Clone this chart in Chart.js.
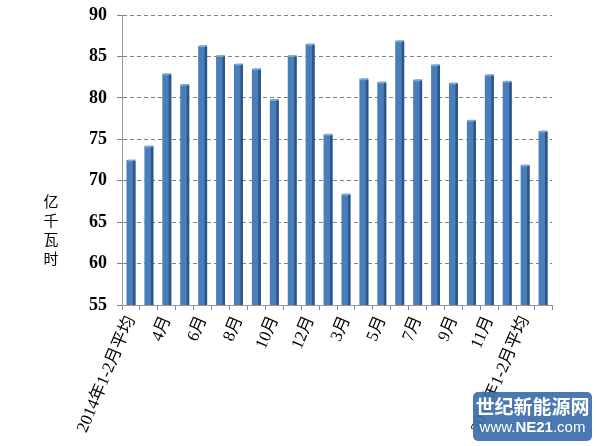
<!DOCTYPE html>
<html><head><meta charset="utf-8">
<script src="https://cdn.jsdelivr.net/npm/chart.js@4"></script>
<style>
html,body{margin:0;padding:0;background:#fff;}
#wrap{position:relative;width:597px;height:446px;}
#ytitle{position:absolute;left:41px;top:191px;width:20px;font-family:"Noto Sans CJK SC",serif;font-size:15px;line-height:19px;color:#000;text-align:center;}
#wm{position:absolute;left:473px;top:392px;width:119px;height:49px;background:rgba(60,110,170,0.93);border-radius:5px;color:#fff;text-align:center;font-family:"Noto Sans CJK SC",sans-serif;}
#wm .a{font-size:19px;font-weight:bold;line-height:24px;margin-top:2px;letter-spacing:0px;}
#wm .b{font-size:15px;line-height:18px;font-family:"Liberation Sans",sans-serif;}
</style></head>
<body><div id="wrap"><canvas id="c" width="597" height="446"></canvas>
<div id="ytitle">亿<br>千<br>瓦<br>时</div>
<div id="wm"><div class="a">世纪新能源网</div><div class="b">www.<b>NE21</b>.com</div></div>
</div>
<script>
const categories = ["2014年1-2月平均","3月","4月","5月","6月","7月","8月","9月","10月","11月","12月",
  "2015年1-2月平均","3月","4月","5月","6月","7月","8月","9月","10月","11月","12月",
  "2016年1-2月平均","3月"];
const values = [72.5,74.2,82.9,81.6,86.3,85.1,84.1,83.5,79.8,85.1,86.5,75.6,68.4,82.3,81.9,86.9,82.2,84.0,81.8,77.3,82.8,82.0,71.9,76.0];
const yTicks = [55,60,65,70,75,80,85,90];

const bar3d = {
  id:'bar3d',
  afterDatasetsDraw(chart){
    const ctx = chart.ctx;
    const bottom = chart.chartArea.bottom;
    chart.getDatasetMeta(0).data.forEach(b=>{
      const w = b.width, x0 = b.x - w/2, x1 = b.x + w/2;
      ctx.save();
      ctx.fillStyle = '#2d5687';
      ctx.fillRect(x1-2.5, b.y+1, 2.5, bottom - b.y - 1);
      ctx.fillStyle = '#7ea6d8';
      ctx.beginPath();
      ctx.moveTo(x0, b.y+1.5); ctx.lineTo(x0+2, b.y-0.5); ctx.lineTo(x1+0.5, b.y-0.5); ctx.lineTo(x1-2.5, b.y+1.5);
      ctx.closePath(); ctx.fill();
      ctx.restore();
    });
  }
};

new Chart(document.getElementById('c'), {
  type:'bar',
  data:{labels:categories, datasets:[{data:values, backgroundColor:'#4a7ebb', borderWidth:0,
    barPercentage:0.5, categoryPercentage:1}]},
  options:{
    responsive:false, animation:false,
    layout:{padding:{top:15,right:45,left:0,bottom:0}},
    plugins:{legend:{display:false}, tooltip:{enabled:false}},
    scales:{
      x:{
        afterFit(s){ s.height = 141; s.paddingLeft = 0; s.paddingRight = 0; },
        border:{display:true,color:'#999',width:1},
        grid:{display:true, drawOnChartArea:false, drawTicks:true, tickLength:5, color:'#888', offset:true},
        ticks:{autoSkip:false, maxRotation:67, minRotation:67, color:'#000',
          font:{family:'"Liberation Serif","Noto Sans CJK SC",serif', size:17},
          callback(v,i){ return i%2===0 ? categories[i] : ''; }}
      },
      y:{
        min:55, max:90,
        afterFit(s){ s.width = 122; s.paddingTop = 0; s.paddingBottom = 0; },
        afterBuildTicks(s){ s.ticks = yTicks.map(v=>({value:v})); },
        border:{display:true,color:'#999',width:1, dash:[4,3]},
        grid:{color:'#808080', tickLength:5, lineWidth:1},
        ticks:{color:'#000', padding:10, font:{family:'"Liberation Serif",serif', size:18, weight:'bold'}}
      }
    }
  },
  plugins:[bar3d]
});
</script></body></html>
